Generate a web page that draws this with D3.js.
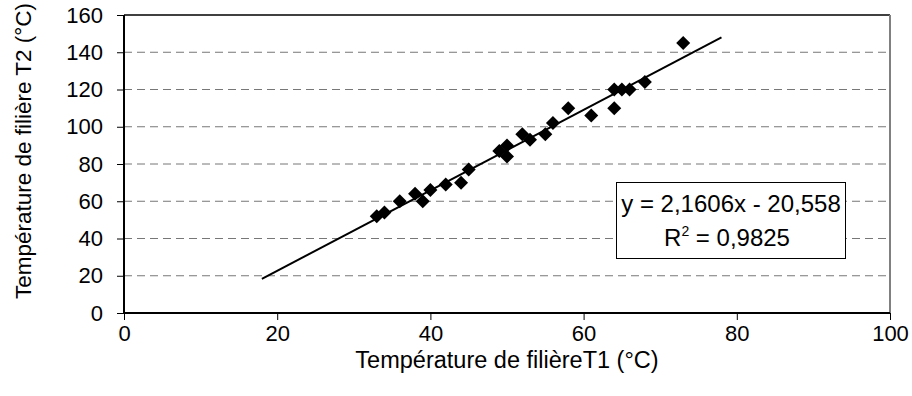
<!DOCTYPE html>
<html>
<head>
<meta charset="utf-8">
<script src="https://cdn.jsdelivr.net/npm/d3@7"></script>
<style>
  body { margin: 0; background: #fff; }
  svg text { font-family: "Liberation Sans", Arial, sans-serif; fill: #000; }
</style>
</head>
<body>
<div id="chart"></div>
<script>
// T1 / T2 readings (°C)
const t1 = [33, 34, 36, 38, 39, 40, 42, 44, 45, 49, 50, 50, 52, 53, 55, 56, 58, 61, 64, 64, 65, 66, 68, 73];
const t2 = [52, 54, 60, 64, 60, 66, 69, 70, 77, 87, 90, 84, 96, 93, 96, 102, 110, 106, 120, 110, 120, 120, 124, 145];

// linear trend (from the chart)
const slope = 2.1606;
const intercept = -20.558;
const trendRange = [18, 78];

const xTicks = [0, 20, 40, 60, 80, 100];
const yTicks = [0, 20, 40, 60, 80, 100, 120, 140, 160];

const width = 912, height = 396;
const margin = {left: 124, right: 22, top: 15, bottom: 83};

const svg = d3.select("#chart").append("svg")
  .attr("width", width)
  .attr("height", height);

const xScale = d3.scaleLinear().domain([0, 100]).range([margin.left, width - margin.right]);
const yScale = d3.scaleLinear().domain([0, 160]).range([height - margin.bottom, margin.top]);

// gridlines
svg.append("g")
  .selectAll("line")
  .data(yTicks.filter(d => d > 0 && d < 160))
  .enter()
  .append("line")
  .attr("x1", xScale(0))
  .attr("x2", xScale(100))
  .attr("y1", d => yScale(d))
  .attr("y2", d => yScale(d))
  .attr("stroke", "#777")
  .attr("stroke-width", 1)
  .attr("stroke-dasharray", "8,5");

// plot border: top + right
svg.append("line")
  .attr("x1", xScale(0)).attr("x2", xScale(100))
  .attr("y1", yScale(160)).attr("y2", yScale(160))
  .attr("stroke", "#000").attr("stroke-width", 1.5);
svg.append("line")
  .attr("x1", xScale(100)).attr("x2", xScale(100))
  .attr("y1", yScale(160)).attr("y2", yScale(0))
  .attr("stroke", "#808080").attr("stroke-width", 2);

const xAxis = d3.axisBottom(xScale)
  .tickValues(xTicks)
  .tickSize(7)
  .tickPadding(5)
  .tickFormat(d3.format("d"));

const yAxis = d3.axisLeft(yScale)
  .tickValues(yTicks)
  .tickSize(7)
  .tickPadding(14)
  .tickFormat(d3.format("d"));

const gx = svg.append("g")
  .attr("transform", `translate(0, ${yScale(0)})`)
  .call(xAxis);

const gy = svg.append("g")
  .attr("transform", `translate(${xScale(0)}, 0)`)
  .call(yAxis);

[gx, gy].forEach(g => {
  g.select(".domain").attr("stroke", "#000").attr("stroke-width", 2);
  g.selectAll(".tick line").attr("stroke", "#000").attr("stroke-width", 1);
  g.selectAll(".tick text").attr("font-size", 22).attr("font-family", "Liberation Sans, Arial, sans-serif");
});
gx.select(".domain").attr("d", `M${xScale(0)},0H${xScale(100)}`);
gy.select(".domain").attr("d", `M0,${yScale(0)}V${yScale(160)}`);

// trend line
svg.append("line")
  .attr("x1", xScale(trendRange[0]))
  .attr("y1", yScale(slope * trendRange[0] + intercept))
  .attr("x2", xScale(trendRange[1]))
  .attr("y2", yScale(slope * trendRange[1] + intercept))
  .attr("stroke", "#000")
  .attr("stroke-width", 2);

// points
const pts = t1.map((v, i) => ({x: v, y: t2[i]}));
svg.append("g")
  .selectAll("path")
  .data(pts)
  .enter()
  .append("path")
  .attr("transform", d => `translate(${xScale(d.x)}, ${yScale(d.y)})`)
  .attr("d", "M0,-7L7,0L0,7L-7,0Z")
  .attr("fill", "#000");

// equation box
const box = svg.append("g");
box.append("rect")
  .attr("x", 616.5).attr("y", 182.5)
  .attr("width", 229).attr("height", 76)
  .attr("fill", "#fff")
  .attr("stroke", "#000")
  .attr("stroke-width", 1);
box.append("text")
  .attr("x", 731).attr("y", 212)
  .attr("text-anchor", "middle")
  .attr("font-size", 24)
  .text("y = 2,1606x - 20,558");
const r2 = box.append("text")
  .attr("x", 727).attr("y", 246)
  .attr("text-anchor", "middle")
  .attr("font-size", 24);
r2.append("tspan").text("R");
r2.append("tspan").attr("dy", -10).attr("font-size", 14).text("2");
r2.append("tspan").attr("dy", 10).text(" = 0,9825");

// axis titles
svg.append("text")
  .attr("x", (xScale(0) + xScale(100)) / 2)
  .attr("y", 367.5)
  .attr("text-anchor", "middle")
  .attr("font-size", 23.5)
  .text("Température de filièreT1 (°C)");

svg.append("text")
  .attr("transform", `translate(31, ${(yScale(0) + yScale(160)) / 2 - 13}) rotate(-90)`)
  .attr("text-anchor", "middle")
  .attr("font-size", 22.5)
  .text("Température de filière T2 (°C)");
</script>
</body>
</html>
